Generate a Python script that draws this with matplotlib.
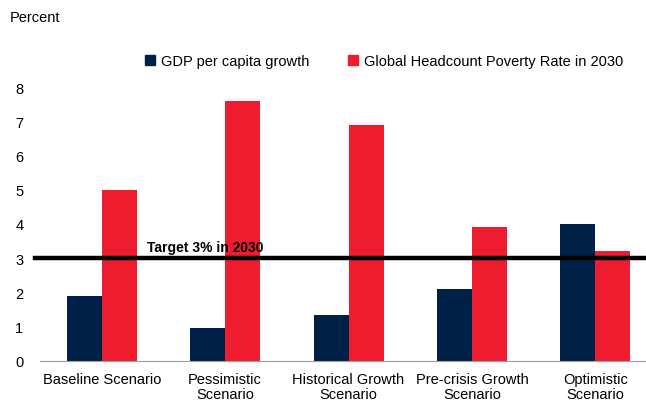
import numpy as np
import matplotlib.pyplot as plt
from matplotlib.patches import Patch

plt.rcParams['font.family'] = ['Liberation Sans', 'DejaVu Sans']

# data
scenarios = ["Baseline Scenario", "Pessimistic\nScenario", "Historical Growth\nScenario",
             "Pre-crisis Growth\nScenario", "Optimistic\nScenario"]
gdp_growth = [1.9, 0.95, 1.35, 2.1, 4.0]
poverty_rate = [5.0, 7.6, 6.9, 3.9, 3.2]
target = 3.0

navy = "#002147"
red = "#ED1C2E"

fig = plt.figure(figsize=(6.46, 4.02), dpi=100)
ax = fig.add_axes([40 / 646, 1 - 362 / 402, 606 / 646, 274 / 402])

x = np.arange(len(scenarios))
w = 0.284
ax.bar(x - w / 2, gdp_growth, width=w, color=navy)
ax.bar(x + w / 2, poverty_rate, width=w, color=red)

ax.set_xlim(-0.5, 4.41)
ax.set_ylim(0, 8)

# target line, runs a little past the axis on the left
ax.plot([-0.54, 4.5], [target, target], color="black", lw=3.2, clip_on=False, zorder=5)
ax.text(0.37, target + 0.12, "Target 3% in 2030", fontsize=10, fontweight="bold",
        ha="left", va="bottom", zorder=6)

ax.set_xticks(x)
ax.set_xticklabels(scenarios, fontsize=10.5, linespacing=1.08)
ax.set_yticks(range(0, 9))
ax.tick_params(axis="y", length=0, pad=12, labelsize=10.5)
ax.tick_params(axis="x", length=0, pad=8)
for s in ["top", "right", "left"]:
    ax.spines[s].set_visible(False)
ax.spines["bottom"].set_color("#a0a0a0")
ax.spines["bottom"].set_linewidth(0.8)

fig.text(10 / 646, 1 - 18 / 402, "Percent", fontsize=10.5, ha="left", va="center")

handles = [Patch(color=navy, label="GDP per capita growth"),
           Patch(color=red, label="Global Headcount Poverty Rate in 2030")]
fig.legend(handles=handles, loc="center", bbox_to_anchor=(384 / 646, 1 - 62 / 402),
           ncol=2, frameon=False, fontsize=10.5, handlelength=0.7, handleheight=0.7,
           handletextpad=0.4, columnspacing=2.6)

fig.savefig("out.png", dpi=100)
